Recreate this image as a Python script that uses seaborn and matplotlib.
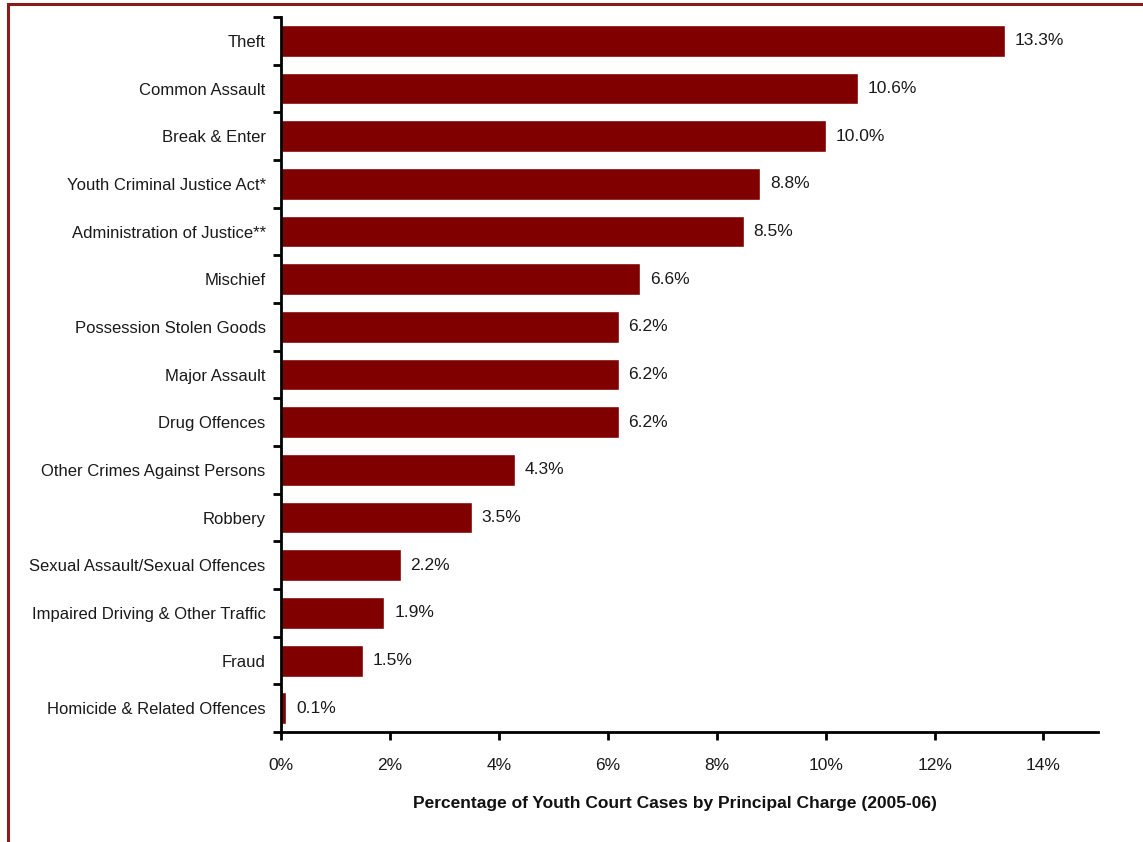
import matplotlib
matplotlib.use("Agg")
import matplotlib.pyplot as plt
from matplotlib.patches import Rectangle
from matplotlib.ticker import FixedLocator, FuncFormatter
import seaborn as sns
import pandas as pd

charges = [
    "Theft",
    "Common Assault",
    "Break & Enter",
    "Youth Criminal Justice Act*",
    "Administration of Justice**",
    "Mischief",
    "Possession Stolen Goods",
    "Major Assault",
    "Drug Offences",
    "Other Crimes Against Persons",
    "Robbery",
    "Sexual Assault/Sexual Offences",
    "Impaired Driving & Other Traffic",
    "Fraud",
    "Homicide & Related Offences",
]
shares = [13.3, 10.6, 10.0, 8.8, 8.5, 6.6, 6.2, 6.2, 6.2, 4.3, 3.5, 2.2, 1.9, 1.5, 0.1]
x_ticks = [0, 2, 4, 6, 8, 10, 12, 14]
x_title = "Percentage of Youth Court Cases by Principal Charge (2005-06)"

df = pd.DataFrame({"charge": charges, "share": shares})

sns.set_theme(style="white")
plt.rcParams["font.family"] = ["Liberation Sans Narrow", "Liberation Sans", "DejaVu Sans"]

fig = plt.figure(figsize=(11.43, 8.42), dpi=100)
ax = fig.add_axes([0.2458, 0.1306, 0.7148, 0.8492])

sns.barplot(data=df, x="share", y="charge", orient="h", color="#800000",
            saturation=1, width=0.67, ax=ax)

ax.bar_label(ax.containers[0], fmt="%.1f%%", padding=7, fontsize=12.5, color="#1a1a1a")

ax.set_xlim(0, 15)
ax.set_ylim(len(charges) - 0.5, -0.5)
ax.xaxis.set_major_locator(FixedLocator(x_ticks))
ax.xaxis.set_major_formatter(FuncFormatter(lambda v, p: f"{v:.0f}%"))

# category labels without ticks; ticks drawn at the boundaries between bars
ax.tick_params(axis="y", which="major", length=0, pad=11, labelsize=12, labelcolor="#1a1a1a")
ax.yaxis.set_minor_locator(FixedLocator([i - 0.5 for i in range(len(charges) + 1)]))
ax.tick_params(axis="y", which="minor", length=6, width=2, direction="out", color="black", left=True)
ax.tick_params(axis="x", which="major", length=6, width=2, direction="out", color="black",
               bottom=True, labelsize=12.5, labelcolor="#1a1a1a", pad=13)

for side in ["top", "right"]:
    ax.spines[side].set_visible(False)
for side in ["left", "bottom"]:
    ax.spines[side].set_color("black")
    ax.spines[side].set_linewidth(2)

ax.set_ylabel("")
ax.set_xlabel(x_title, fontsize=12.5, fontweight="bold", color="#111111")
ax.xaxis.set_label_coords(0.482, -0.09)

# dark red frame around the chart area, running off the right and bottom edges
fig.patches.append(Rectangle((8 / 1143, -0.1), 1.2, 1 - 4 / 842 + 0.1,
                             transform=fig.transFigure, fill=False,
                             edgecolor="#8b1a1a", linewidth=2.2))

fig.savefig("out.png", dpi=100, facecolor="white")
